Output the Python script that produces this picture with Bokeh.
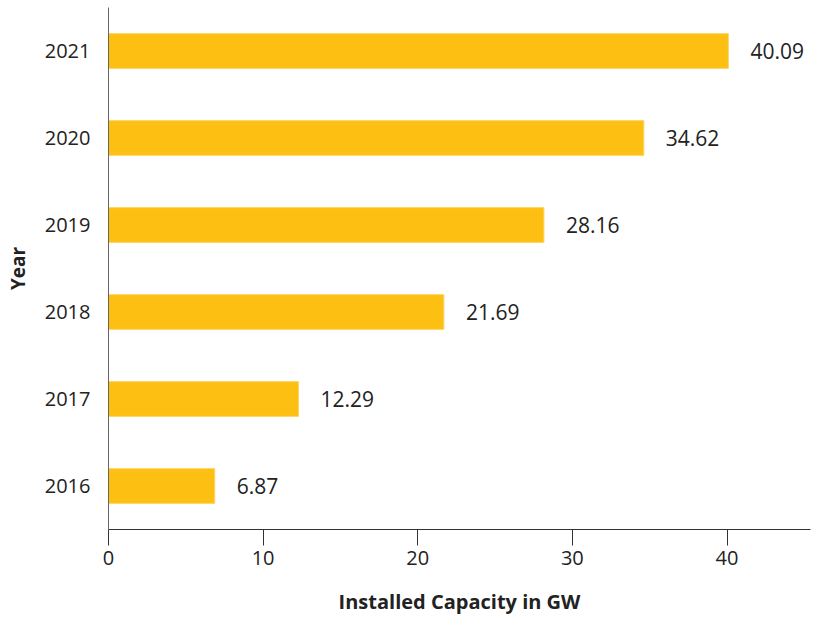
from bokeh.plotting import figure
from bokeh.models import Range1d, ColumnDataSource
from bokeh.embed import file_html
from bokeh.resources import INLINE
from bokeh.core.properties import value

years = ["2016", "2017", "2018", "2019", "2020", "2021"]
capacity = [6.87, 12.29, 21.69, 28.16, 34.62, 40.09]
labels = ["6.87", "12.29", "21.69", "28.16", "34.62", "40.09"]
x_ticks = [0, 10, 20, 30, 40]

FONT = "Open Sans"

src = ColumnDataSource(data=dict(year=years, cap=capacity, lab=labels))

p = figure(width=823, height=626, y_range=years, x_range=Range1d(0, 45.4),
           output_backend="svg", toolbar_location=None,
           min_border_left=108, min_border_right=13, min_border_top=7, min_border_bottom=97)
p.hbar(y="year", right="cap", left=0, height=0.4, source=src,
       fill_color="#FCBF12", line_color="#FDD56A", line_width=1)
p.text(x="cap", y="year", text="lab", source=src, x_offset=22,
       text_baseline="middle", text_align="left",
       text_font=value(FONT), text_font_size="21px", text_color="#222222")

p.grid.visible = False
p.outline_line_color = None
p.background_fill_color = "white"
p.border_fill_color = "white"

p.xaxis.ticker = x_ticks
p.xaxis.axis_line_color = "#333333"
p.xaxis.major_tick_line_color = "#333333"
p.xaxis.major_tick_out = 16
p.xaxis.major_tick_in = 0
p.xaxis.minor_tick_line_color = None
p.xaxis.major_label_standoff = 5
p.xaxis.major_label_text_font = FONT
p.xaxis.major_label_text_font_size = "20px"
p.xaxis.major_label_text_color = "#222222"
p.xaxis.axis_label = "Installed Capacity in GW"
p.xaxis.axis_label_text_font = FONT
p.xaxis.axis_label_text_font_size = "20px"
p.xaxis.axis_label_text_font_style = "bold"
p.xaxis.axis_label_text_color = "#222222"
p.xaxis.axis_label_standoff = 20

p.yaxis.axis_line_color = "#666666"
p.yaxis.major_tick_line_color = None
p.yaxis.minor_tick_line_color = None
p.yaxis.major_label_standoff = 12
p.yaxis.major_label_text_font = FONT
p.yaxis.major_label_text_font_size = "20px"
p.yaxis.major_label_text_color = "#222222"
p.yaxis.axis_label = "Year"
p.yaxis.axis_label_text_font = FONT
p.yaxis.axis_label_text_font_size = "19px"
p.yaxis.axis_label_text_font_style = "bold"
p.yaxis.axis_label_text_color = "#222222"
p.yaxis.axis_label_standoff = 11

open("out.html", "w").write(file_html(p, INLINE))
